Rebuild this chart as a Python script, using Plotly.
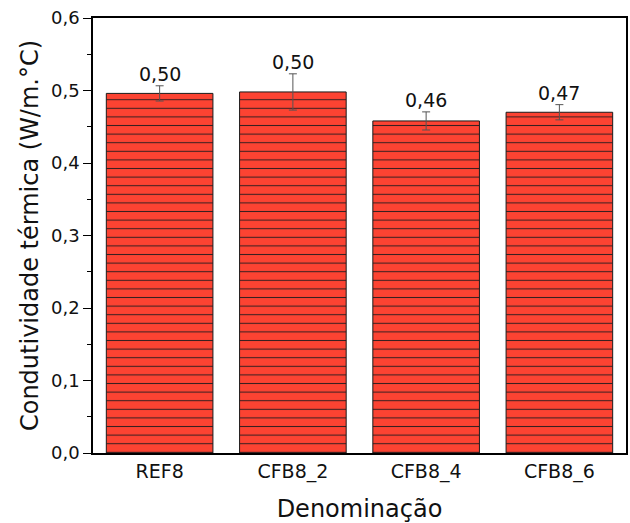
import plotly.graph_objects as go

# Thermal conductivity per mix
categories = ["REF8", "CFB8_2", "CFB8_4", "CFB8_6"]
conductivity = [0.496, 0.498, 0.458, 0.470]
std_dev = [0.0105, 0.025, 0.0125, 0.0105]

y_ticks = [0.0, 0.1, 0.2, 0.3, 0.4, 0.5, 0.6]

FONT = "DejaVu Sans, Verdana, sans-serif"

fig = go.Figure()
fig.add_trace(go.Bar(
    x=categories,
    y=conductivity,
    width=0.8,
    marker=dict(
        color="#FC4332",
        line=dict(color="#1a1a1a", width=1),
        pattern=dict(shape="-", size=8.6, solidity=0.12,
                     fgcolor="#3a2020", fgopacity=1, bgcolor="#FC4332"),
    ),
    error_y=dict(type="data", array=std_dev, visible=True,
                 color="#555555", thickness=1, width=4),
    showlegend=False,
))

# value labels above the error bars
for cat, val, err in zip(categories, conductivity, std_dev):
    fig.add_annotation(
        x=cat, y=val + err, text=f"{val:.2f}".replace(".", ","),
        showarrow=False, yanchor="bottom", yshift=-1,
        font=dict(family=FONT, size=19, color="#111111"),
    )

fig.update_layout(
    width=630, height=523,
    margin=dict(l=93, r=2, t=18, b=70),
    paper_bgcolor="white", plot_bgcolor="white",
    separators=",.",
    font=dict(family=FONT, color="#111111"),
    bargap=0.2,
)
fig.update_xaxes(
    range=[-0.5, 3.5],
    showline=True, linecolor="black", linewidth=1.5, mirror=True,
    ticks="", showgrid=False,
    tickfont=dict(size=19),
    title=dict(text="Denominação", font=dict(size=24), standoff=21),
)
fig.update_yaxes(
    range=[0, 0.6],
    tickvals=y_ticks, tickformat=".1f",
    showline=True, linecolor="black", linewidth=1.5, mirror=True,
    ticks="outside", ticklen=8, tickwidth=1.2, tickcolor="black",
    minor=dict(dtick=0.05, ticks="outside", ticklen=4, tickcolor="black", tickwidth=1),
    showgrid=False, zeroline=False,
    tickfont=dict(size=18),
    title=dict(text="Condutividade térmica (W/m.°C)", font=dict(size=24), standoff=6),
)

fig.write_html("out.html")
